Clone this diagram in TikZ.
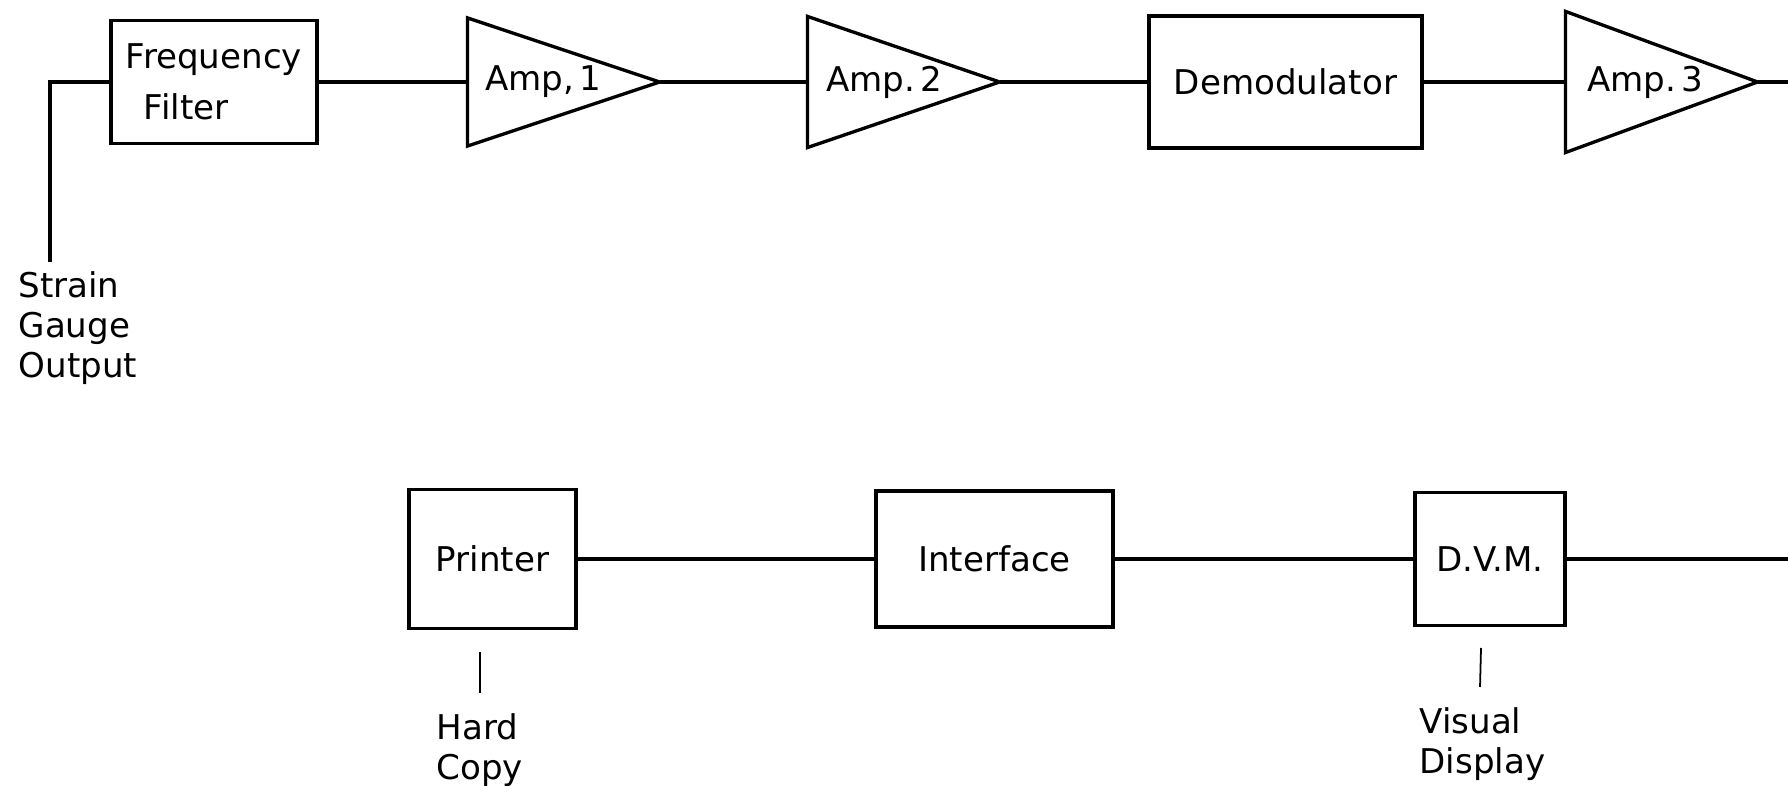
\documentclass[tikz,border=0pt]{standalone}
\usepackage{fontspec}
\setmainfont{DejaVu Sans}

\begin{document}
\begin{tikzpicture}[
    every node/.style={font=\fontsize{9.7}{11.4}\selectfont, inner sep=0pt},
    block/.style={draw, line width=0.95pt, align=center},
    amp/.style={minimum width=1.89cm, minimum height=#1, text width=1.89cm, align=left},
    note/.style={anchor=north west, align=left},
    every path/.style={line width=0.9pt}
  ]
    \useasboundingbox (0, 0) rectangle (17.88, 7.86);
    \node[block, minimum width=2.06cm, minimum height=1.23cm, align=left] (filter) at (2.14, 7.04)
      {Frequency\\[3pt]\hspace*{0.18cm}Filter};
    \node[amp=1.25cm] (amp1) at (5.635, 7.04) {\hspace*{0.16cm}Amp,\,1};
    \node[amp=1.28cm] (amp2) at (9.035, 7.04) {\hspace*{0.17cm}Amp.\,2};
    \node[block, minimum width=2.73cm, minimum height=1.32cm] (demod) at (12.855, 7.04) {Demodulator};
    \node[amp=1.38cm] (amp3) at (16.615, 7.04) {\hspace*{0.20cm}Amp.\,3};
    \coordinate (topend) at (17.88, 7.04);
    \coordinate (gauge) at (0.50, 5.24);
    \node[note] (strain) at (0.17, 5.16) {Strain\\Gauge\\Output};

    \draw[line width=0.95pt] (amp1.north west) -- (amp1.east) -- (amp1.south west) -- cycle
      (amp2.north west) -- (amp2.east) -- (amp2.south west) -- cycle
      (amp3.north west) -- (amp3.east) -- (amp3.south west) -- cycle;
    \draw (gauge) |- (filter.west);
    \draw (filter) -- (amp1) -- (amp2) -- (demod) -- (amp3) -- (topend);

    \node[block, minimum width=1.67cm, minimum height=1.39cm] (printer) at (4.925, 2.27) {Printer};
    \node[block, minimum width=2.37cm, minimum height=1.36cm] (interface) at (9.945, 2.27) {Interface};
    \node[block, minimum width=1.50cm, minimum height=1.33cm] (dvm) at (14.90, 2.27) {D.V.M.};
    \coordinate (botend) at (17.88, 2.27);
    \draw (printer) -- (interface) -- (dvm) -- (botend);

    \coordinate (copytop) at (4.80, 1.34);
    \coordinate (copybot) at (4.80, 0.93);
    \node[note] (copy) at (4.35, 0.74) {Hard\\Copy};
    \draw[line width=0.5pt] (copytop) -- (copybot);
    \coordinate (displaytop) at (14.81, 1.38);
    \coordinate (displaybot) at (14.80, 0.99);
    \node[note] (display) at (14.18, 0.80) {Visual\\Display};
    \draw[line width=0.5pt] (displaytop) -- (displaybot);
  \end{tikzpicture}
\end{document}
